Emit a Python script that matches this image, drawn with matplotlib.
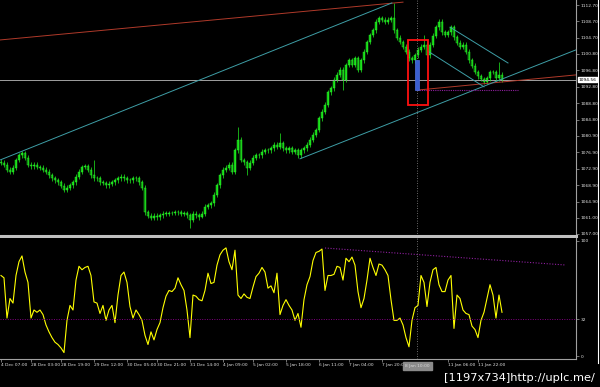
import matplotlib
matplotlib.use('Agg')
import matplotlib.pyplot as plt
import matplotlib.transforms as mtransforms
from matplotlib.lines import Line2D
from matplotlib.patches import Rectangle

# ---- price data (one close per bar) ----
closes = [
    1074.3, 1073.8, 1072.6, 1072.1, 1073.1, 1075.0, 1076.2, 1076.7, 1075.5, 1073.8,
    1073.5, 1073.8, 1073.3, 1073.1, 1072.6, 1072.1, 1071.3, 1070.6, 1070.1, 1069.6,
    1068.7, 1067.7, 1068.2, 1068.9, 1069.6, 1070.9, 1072.1, 1073.3, 1073.5, 1072.6,
    1071.3, 1070.6, 1070.6, 1069.6, 1069.4, 1068.9, 1069.2, 1069.6, 1070.1, 1070.6,
    1070.9, 1070.6, 1070.1, 1070.1, 1070.6, 1070.6, 1069.6, 1068.2, 1062.3, 1061.4,
    1060.9, 1061.4, 1061.1, 1061.6, 1061.9, 1061.9, 1062.1, 1062.1, 1062.3, 1062.3,
    1061.9, 1062.1, 1061.6, 1060.4, 1061.9, 1061.6, 1061.1, 1061.9, 1063.6, 1064.0,
    1064.5, 1066.5, 1068.9, 1071.3, 1072.6, 1073.1, 1073.8, 1072.1, 1077.4, 1079.9,
    1075.0, 1074.5, 1073.1, 1074.3, 1075.5, 1076.2, 1076.2, 1077.0, 1077.4, 1077.4,
    1077.9, 1078.7, 1078.2, 1079.1, 1077.9, 1077.4, 1077.9, 1077.0, 1077.4, 1076.2,
    1077.4, 1077.9, 1078.7, 1079.9, 1081.1, 1082.3, 1085.2, 1086.7, 1088.4, 1091.5,
    1092.5, 1094.5, 1095.7, 1096.9, 1094.5, 1098.1, 1099.3, 1098.1, 1099.8, 1096.9,
    1099.3, 1101.3, 1103.7, 1105.4, 1106.6, 1108.6, 1109.5, 1109.1, 1108.6, 1109.1,
    1109.5, 1106.6, 1104.7, 1103.7, 1102.5, 1101.3, 1099.8, 1099.3, 1100.5, 1101.8,
    1102.5, 1103.0, 1100.5, 1103.0, 1105.2, 1107.3, 1108.6, 1106.1, 1105.4, 1106.1,
    1107.3, 1104.9, 1103.5, 1102.5, 1103.0, 1101.3, 1099.3, 1097.9, 1096.4, 1095.4,
    1094.7, 1094.0, 1094.9, 1096.4, 1096.4, 1094.9, 1095.7, 1094.56,
]
# long wicks that stand out
spike_highs = {31: 1075.0, 79: 1083.0, 93: 1081.6, 131: 1113.2, 141: 1105.4, 166: 1098.8}
spike_lows = {63: 1058.5, 67: 1060.9, 82: 1071.3, 114: 1092.0}

# ---- oscillator ----
osc = [
    70, 68, 33, 50, 46, 70, 82, 87, 73, 64, 33, 40, 38, 40, 36, 27, 21, 16, 12, 10,
    7, 3, 31, 44, 40, 66, 78, 75, 77, 78, 70, 47, 46, 37, 44, 31, 40, 44, 29, 53,
    70, 73, 64, 43, 33, 40, 36, 31, 18, 10, 21, 14, 23, 29, 42, 52, 57, 56, 59, 68,
    62, 57, 40, 16, 53, 52, 49, 48, 57, 72, 63, 64, 79, 88, 92, 94, 82, 75, 92, 53,
    50, 54, 51, 50, 60, 69, 72, 77, 73, 59, 61, 55, 72, 36, 44, 49, 44, 40, 31, 37,
    25, 49, 62, 69, 83, 90, 91, 93, 57, 70, 70, 71, 78, 77, 66, 85, 82, 86, 79, 56,
    42, 50, 66, 85, 77, 70, 80, 79, 75, 70, 49, 31, 31, 33, 27, 16, 8, 31, 42, 44,
    70, 64, 43, 64, 75, 77, 62, 56, 56, 66, 70, 24, 53, 50, 40, 37, 36, 26, 23, 16,
    31, 38, 50, 62, 53, 33, 53, 38,
]
osc_level = 32

price_ticks = [1112.70, 1108.70, 1104.70, 1100.80, 1096.80, 1092.80, 1088.80, 1084.80,
               1080.90, 1076.90, 1072.90, 1068.90, 1064.90, 1061.00, 1057.00]
last_price = 1094.56

time_labels = ['4 Dec 07:00', '28 Dec 03:00', '28 Dec 19:00', '29 Dec 12:00', '30 Dec 05:00',
               '30 Dec 21:00', '31 Dec 14:00', '4 Jan 09:00', '5 Jan 02:00', '5 Jan 18:00',
               '6 Jan 11:00', '7 Jan 04:00', '7 Jan 20:00', '11 Jan 06:00', '11 Jan 22:00']
time_bars = [0, 10, 20, 31, 42, 52, 63, 74, 84, 95, 106, 116, 127, 149, 159]
cursor_bar = 138.7
cursor_label = '8 Jan 10:00'

# trend lines (bar, price) -> (bar, price)
red_lines = [((-0.3, 1104.2), (134, 1113.4)), ((138.7, 1092.0), (191.7, 1095.7))]
cyan_lines = [((-0.3, 1075.0), (130.3, 1113.2)), ((99.7, 1075.3), (191.7, 1101.8)),
              ((149.7, 1107.3), (169, 1098.6)), ((142.7, 1101.3), (161, 1092.8))]
purple_line = ((138.7, 1092.0), (172.3, 1092.0))
osc_trend = ((108, 93.9), (188.3, 79.1))
box_bars = (135.7, 142.3)
box_prices = (1088.4, 1104.2)
blue_bar = (138.7, 1092.0, 1099.3)

# ---- figure ----
W, H = 600, 387
FS = 3.2
fig = plt.figure(figsize=(W / 100, H / 100), dpi=100, facecolor='black')


def frac(x0, y0, x1, y1):
    return [x0 / W, 1 - y1 / H, (x1 - x0) / W, (y1 - y0) / H]


ax = fig.add_axes(frac(0, 0, 576, 236))
ax2 = fig.add_axes(frac(0, 238, 576, 359))
for a in (ax, ax2):
    a.set_facecolor('black')
    a.set_xlim(-0.33, 191.67)
    for s in ('top', 'left'):
        a.spines[s].set_visible(False)
    a.spines['right'].set_color('#a0a0a0')
    a.spines['right'].set_linewidth(0.8)
    a.yaxis.tick_right()
    a.tick_params(axis='y', colors='#a0a0a0', labelcolor='#e0e0e0', labelsize=FS,
                  length=2, width=0.5, pad=1.2)

ax.spines['bottom'].set_color('#c0c0c0')
ax.spines['bottom'].set_linewidth(2.2)
ax2.spines['bottom'].set_color('#a0a0a0')
ax2.spines['bottom'].set_linewidth(0.8)

ax.set_ylim(1056.51, 1113.92)
ax.set_yticks(price_ticks)
ax.set_yticklabels([f'{p:.2f}' for p in price_ticks])
ax.set_xticks([])

# candles
opens = [closes[0] + 0.3] + closes[:-1]
for i, (o, c) in enumerate(zip(opens, closes)):
    hi = spike_highs.get(i, max(o, c) + 0.6)
    lo = spike_lows.get(i, min(o, c) - 0.6)
    ax.vlines(i, lo, hi, color='#20ee20', lw=0.5)
    body = max(abs(c - o), 0.12)
    ax.add_patch(Rectangle((i - 0.25, min(o, c)), 0.5, body,
                           facecolor='#10c010' if c >= o else '#0a7a0a',
                           edgecolor='#30ff30', lw=0.3))

# blue highlighted bar and red box
ax.add_patch(Rectangle((blue_bar[0] - 0.8, blue_bar[1]), 1.6, blue_bar[2] - blue_bar[1],
                       facecolor='#3a5fd0', edgecolor='#5070e0', lw=0.5, zorder=3))
ax.add_patch(Rectangle((box_bars[0], box_prices[0]), box_bars[1] - box_bars[0],
                       box_prices[1] - box_prices[0], fill=False, edgecolor='#ff1010',
                       lw=1.3, zorder=4))

# lines
ax.axhline(last_price, color='#a0a0a0', lw=0.7, zorder=1)
for (x0, y0), (x1, y1) in red_lines:
    ax.plot([x0, x1], [y0, y1], color='#b03a2a', lw=0.7)
for (x0, y0), (x1, y1) in cyan_lines:
    ax.plot([x0, x1], [y0, y1], color='#3e9ea6', lw=0.7)
(x0, y0), (x1, y1) = purple_line
ax.plot([x0, x1], [y0, y1], color='#9020a0', lw=0.8, ls=(0, (1, 1)))

trans = mtransforms.blended_transform_factory(ax.transAxes, ax.transData)
ax.text(1.004, last_price, f'{last_price:.2f}', transform=trans, fontsize=FS,
        color='black', va='center', ha='left',
        bbox=dict(facecolor='white', edgecolor='white', pad=0.5))

# oscillator
ax2.set_ylim(-2.6, 102.6)
ax2.plot(range(len(osc)), osc, color='#ffff00', lw=0.8)
ax2.axhline(osc_level, color='#800080', lw=0.7, ls=(0, (1, 1.5)))
(x0, y0), (x1, y1) = osc_trend
ax2.plot([x0, x1], [y0, y1], color='#9020a0', lw=0.8, ls=(0, (1, 1.5)))
ax2.set_yticks([100, osc_level, 0])
ax2.set_yticklabels(['100', str(osc_level), '0'])
ax2.set_xticks(time_bars)
ax2.set_xticklabels(time_labels, ha='left')
ax2.tick_params(axis='x', colors='#a0a0a0', labelcolor='#e0e0e0', labelsize=FS,
                length=2, width=0.5, pad=1)

# crosshair
for a in (ax, ax2):
    a.axvline(cursor_bar, color='#909090', lw=0.6, ls=(0, (1, 2)), zorder=2)
xt = mtransforms.blended_transform_factory(ax2.transData, ax2.transAxes)
ax2.text(cursor_bar - 3.9, -0.06, cursor_label, transform=xt, fontsize=FS,
         color='#d8d8d8', va='center', ha='left',
         bbox=dict(facecolor='#8a8a8a', edgecolor='#8a8a8a', pad=1.6))

# right frame line and watermark
fig.add_artist(Line2D([597.5 / W, 597.5 / W], [1 - 363 / H, 1], color='white', lw=0.8))
fig.text(595 / W, 1 - 378 / H, '[1197x734]http://uplc.me/', ha='right', va='center',
         color='white', fontsize=8.2, family=['Liberation Sans Narrow', 'DejaVu Sans'])

fig.savefig('out.png', dpi=100, facecolor='black')
